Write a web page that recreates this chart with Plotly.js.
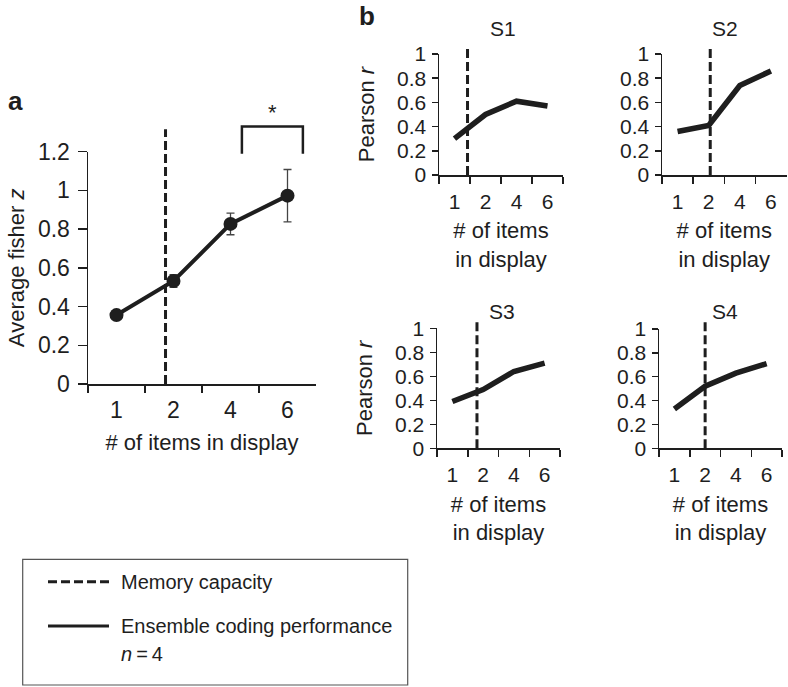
<!DOCTYPE html>
<html>
<head>
<meta charset="utf-8">
<script src="https://cdn.plot.ly/plotly-3.0.1.min.js"></script>
<style>html,body{margin:0;padding:0;background:#fff;}#chart{width:788px;height:687px;}</style>
</head>
<body>
<div id="chart"></div>
<script>
// ---- data ----
const categories = ["1", "2", "4", "6"];
const fisherZ = [0.356, 0.532, 0.827, 0.973];
const fisherErr = [0.01, 0.033, 0.056, 0.135];
const s1R = [0.30, 0.50, 0.61, 0.57];
const s2R = [0.36, 0.41, 0.74, 0.86];
const s3R = [0.39, 0.49, 0.64, 0.71];
const s4R = [0.33, 0.52, 0.63, 0.71];
const subjectNames = ["S1", "S2", "S3", "S4"];
// memory capacity, as position on the category scale (index)
const capacityPos = [0.86, 0.42, 1.05, 0.80, 1.00];
const yTickA = [0, 0.2, 0.4, 0.6, 0.8, 1, 1.2];
const yTickB = [0, 0.2, 0.4, 0.6, 0.8, 1];

// ---- layout helpers ----
const W = 788, H = 687;
const px = v => v / W;
const py = v => 1 - v / H;
const FONT = 'Liberation Sans, Arial, Helvetica, sans-serif';
const INK = '#1e1e1e';

const dom = {
  a:  {x: [px(88), px(316)],   y: [py(384), py(151.7)], r: [0, 1.2]},
  s1: {x: [px(439), px(563)],  y: [py(175), py(54)],    r: [0, 1]},
  s2: {x: [px(662), px(786.5)], y: [py(175), py(54)],    r: [0, 1]},
  s3: {x: [px(437), px(560)],  y: [py(448.3), py(328.3)], r: [0, 1]},
  s4: {x: [px(659), px(782)],  y: [py(448.3), py(329)], r: [0, 1]}
};
function yPaper(d, v) { return d.y[0] + (v - d.r[0]) / (d.r[1] - d.r[0]) * (d.y[1] - d.y[0]); }

function xAxis(d, anchor, fs, title, standoff, labelOff) {
  return {
    type: 'category', categoryorder: 'array', categoryarray: categories,
    domain: d.x, anchor: anchor, range: [-0.5, 3.5],
    tickson: 'boundaries', ticks: 'outside', ticklen: 7, tickwidth: 1.5, tickcolor: INK,
    ticklabelstandoff: labelOff,
    showline: true, linecolor: INK, linewidth: 1.5, showgrid: false, zeroline: false,
    tickfont: {size: fs, color: INK}, fixedrange: true,
    title: title ? {text: title, font: {size: 22, color: INK}, standoff: standoff} : undefined
  };
}
function yAxis(d, anchor, fs, tickvals, title, ticklen, standoff, labelOff) {
  return {
    domain: d.y, anchor: anchor, range: d.r,
    tickvals: tickvals, ticktext: tickvals.map(v => String(v)),
    ticks: 'outside', ticklen: ticklen, tickwidth: 1.5, tickcolor: INK,
    ticklabelstandoff: labelOff,
    showline: true, linecolor: INK, linewidth: 1.5, showgrid: false, zeroline: false,
    tickfont: {size: fs, color: INK}, fixedrange: true,
    title: title ? {text: title, font: {size: 22, color: INK}, standoff: standoff} : undefined
  };
}

// ---- traces ----
const traces = [
  {x: categories, y: fisherZ, xaxis: 'x', yaxis: 'y', type: 'scatter', mode: 'lines+markers',
   line: {color: INK, width: 4}, marker: {color: INK, size: 14},
   error_y: {type: 'data', array: fisherErr, visible: true, color: '#444', thickness: 1.3, width: 4},
   showlegend: false}
];
const subjSeries = [s1R, s2R, s3R, s4R];
subjSeries.forEach((s, i) => {
  traces.push({x: categories, y: s, xaxis: 'x' + (i + 2), yaxis: 'y' + (i + 2), type: 'scatter',
    mode: 'lines', line: {color: INK, width: 5.5}, showlegend: false, name: subjectNames[i]});
});

// ---- shapes ----
const panelKeys = ['a', 's1', 's2', 's3', 's4'];
const axNames = ['x', 'x2', 'x3', 'x4', 'x5'];
const capTop = [1.316, 1.047, 1.06, 1.063, 1.08];
const shapes = [];
panelKeys.forEach((k, i) => {
  shapes.push({type: 'line', xref: axNames[i], yref: 'paper', layer: 'below',
    x0: capacityPos[i], x1: capacityPos[i], y0: yPaper(dom[k], 0), y1: yPaper(dom[k], capTop[i]),
    line: {color: INK, width: 3, dash: '9px,4px'}});
});
// significance bracket between 4 and 6
const bx0 = 2.2, bx1 = 3.27, byT = yPaper(dom.a, 1.33), byB = yPaper(dom.a, 1.19);
shapes.push({type: 'path', xref: 'x', yref: 'paper',
  path: `M ${bx0},${byB} L ${bx0},${byT} L ${bx1},${byT} L ${bx1},${byB}`,
  line: {color: INK, width: 2.5}});
// legend box
shapes.push({type: 'rect', xref: 'paper', yref: 'paper', x0: px(22.7), x1: px(407.7), y0: py(685), y1: py(559.3),
  line: {color: '#555', width: 1.2}});
shapes.push({type: 'line', xref: 'paper', yref: 'paper', x0: px(48), x1: px(109), y0: py(581.7), y1: py(581.7),
  line: {color: INK, width: 3, dash: '9px,4px'}});
shapes.push({type: 'line', xref: 'paper', yref: 'paper', x0: px(48), x1: px(109), y0: py(626), y1: py(626),
  line: {color: INK, width: 3}});

// ---- annotations ----
const ann = [
  {text: '<b>a</b>', x: px(16), y: py(101), font: {size: 26}},
  {text: '<b>b</b>', x: px(367), y: py(16), font: {size: 26}},
  {text: '*', xref: 'x', x: 2.74, y: yPaper(dom.a, 1.405), font: {size: 22}},
  {text: subjectNames[0], x: px(503), y: py(29), font: {size: 21}},
  {text: subjectNames[1], x: px(725), y: py(29), font: {size: 21}},
  {text: subjectNames[2], x: px(502), y: py(311), font: {size: 21}},
  {text: subjectNames[3], x: px(725), y: py(311), font: {size: 21}},
  {text: 'Memory capacity', x: px(119), y: py(581.7), xanchor: 'left', font: {size: 20}},
  {text: 'Ensemble coding performance', x: px(119), y: py(626), xanchor: 'left', font: {size: 20}},
  {text: '<i>n</i>\u2009=\u20094', x: px(119), y: py(653.5), xanchor: 'left', font: {size: 20}}
].map(a => Object.assign({xref: 'paper', yref: 'paper', showarrow: false, xanchor: 'center', yanchor: 'middle'}, a,
  {font: Object.assign({family: FONT, color: INK}, a.font)}));

const layout = {
  width: W, height: H,
  margin: {l: 0, r: 0, t: 0, b: 0},
  paper_bgcolor: '#fff', plot_bgcolor: 'rgba(0,0,0,0)',
  font: {family: FONT, color: INK},
  showlegend: false,
  xaxis:  xAxis(dom.a, 'y', 23, '# of items in display', 12, 5),
  yaxis:  yAxis(dom.a, 'x', 23, yTickA, 'Average fisher <i>z</i>', 9, 7, 3),
  xaxis2: xAxis(dom.s1, 'y2', 21, '# of items<br>in display', 11, 7),
  yaxis2: yAxis(dom.s1, 'x2', 21, yTickB, 'Pearson <i>r</i>', 6, 16, 1),
  xaxis3: xAxis(dom.s2, 'y3', 21, '# of items<br>in display', 11, 7),
  yaxis3: yAxis(dom.s2, 'x3', 21, yTickB, null, 6, 16, 1),
  xaxis4: xAxis(dom.s3, 'y4', 21, '# of items<br>in display', 11, 7),
  yaxis4: yAxis(dom.s3, 'x4', 21, yTickB, 'Pearson <i>r</i>', 6, 16, 1),
  xaxis5: xAxis(dom.s4, 'y5', 21, '# of items<br>in display', 11, 7),
  yaxis5: yAxis(dom.s4, 'x5', 21, yTickB, null, 6, 16, 1),
  shapes: shapes,
  annotations: ann
};

Plotly.newPlot('chart', traces, layout, {staticPlot: true, displayModeBar: false});
</script>
</body>
</html>
